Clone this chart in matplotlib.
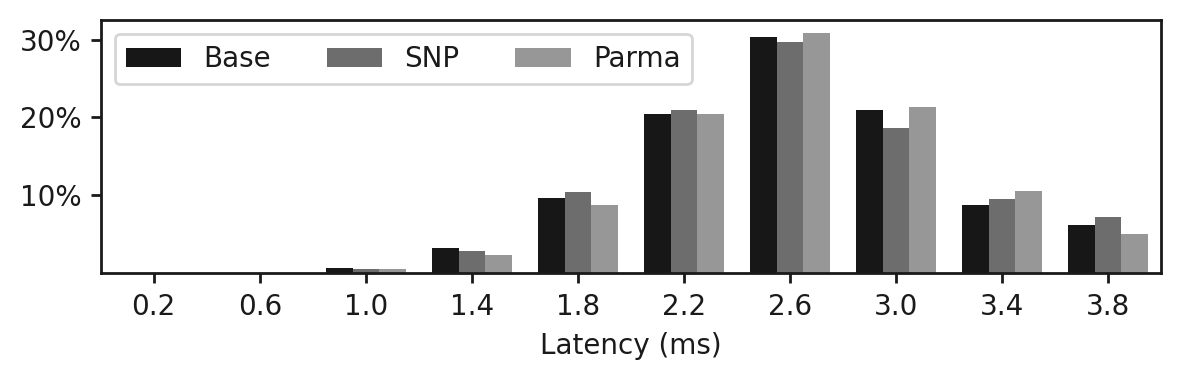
import matplotlib
matplotlib.use('Agg')
import matplotlib.pyplot as plt
import numpy as np

# Latency buckets (ms) and share of requests per bucket (%)
latency = ['0.2', '0.6', '1.0', '1.4', '1.8', '2.2', '2.6', '3.0', '3.4', '3.8']
base = [0.0, 0.0, 0.65, 3.2, 9.7, 20.4, 30.3, 20.9, 8.8, 6.15]
snp = [0.0, 0.0, 0.6, 2.8, 10.4, 20.9, 29.7, 18.7, 9.5, 7.2]
parma = [0.0, 0.0, 0.5, 2.3, 8.8, 20.5, 30.9, 21.3, 10.5, 5.0]

series = [('Base', base, '#171717'), ('SNP', snp, '#6d6d6d'), ('Parma', parma, '#979797')]

plt.rcParams['font.size'] = 10
plt.rcParams['axes.linewidth'] = 1.0
plt.rcParams['xtick.major.width'] = 1.0
plt.rcParams['ytick.major.width'] = 1.0
for key in ['text.color', 'axes.edgecolor', 'axes.labelcolor', 'xtick.color', 'ytick.color']:
    plt.rcParams[key] = '#1a1a1a'

fig = plt.figure(figsize=(5.905, 1.89), dpi=200)
ax = fig.add_axes([0.0853, 0.277, 0.8977, 0.670])

x = np.arange(len(latency))
width = 0.25
for i, (name, vals, color) in enumerate(series):
    ax.bar(x + (i - 1) * width, vals, width, label=name, color=color)

ax.set_xlim(-0.5, len(latency) - 0.5)
ax.set_ylim(0, 32.5)
ax.set_xticks(x)
ax.set_xticklabels(latency)
ax.set_yticks([10, 20, 30])
ax.set_yticklabels(['10%', '20%', '30%'])
ax.set_xlabel('Latency (ms)')
ax.legend(loc='upper left', ncol=3)

fig.savefig('out.png', dpi=200)
